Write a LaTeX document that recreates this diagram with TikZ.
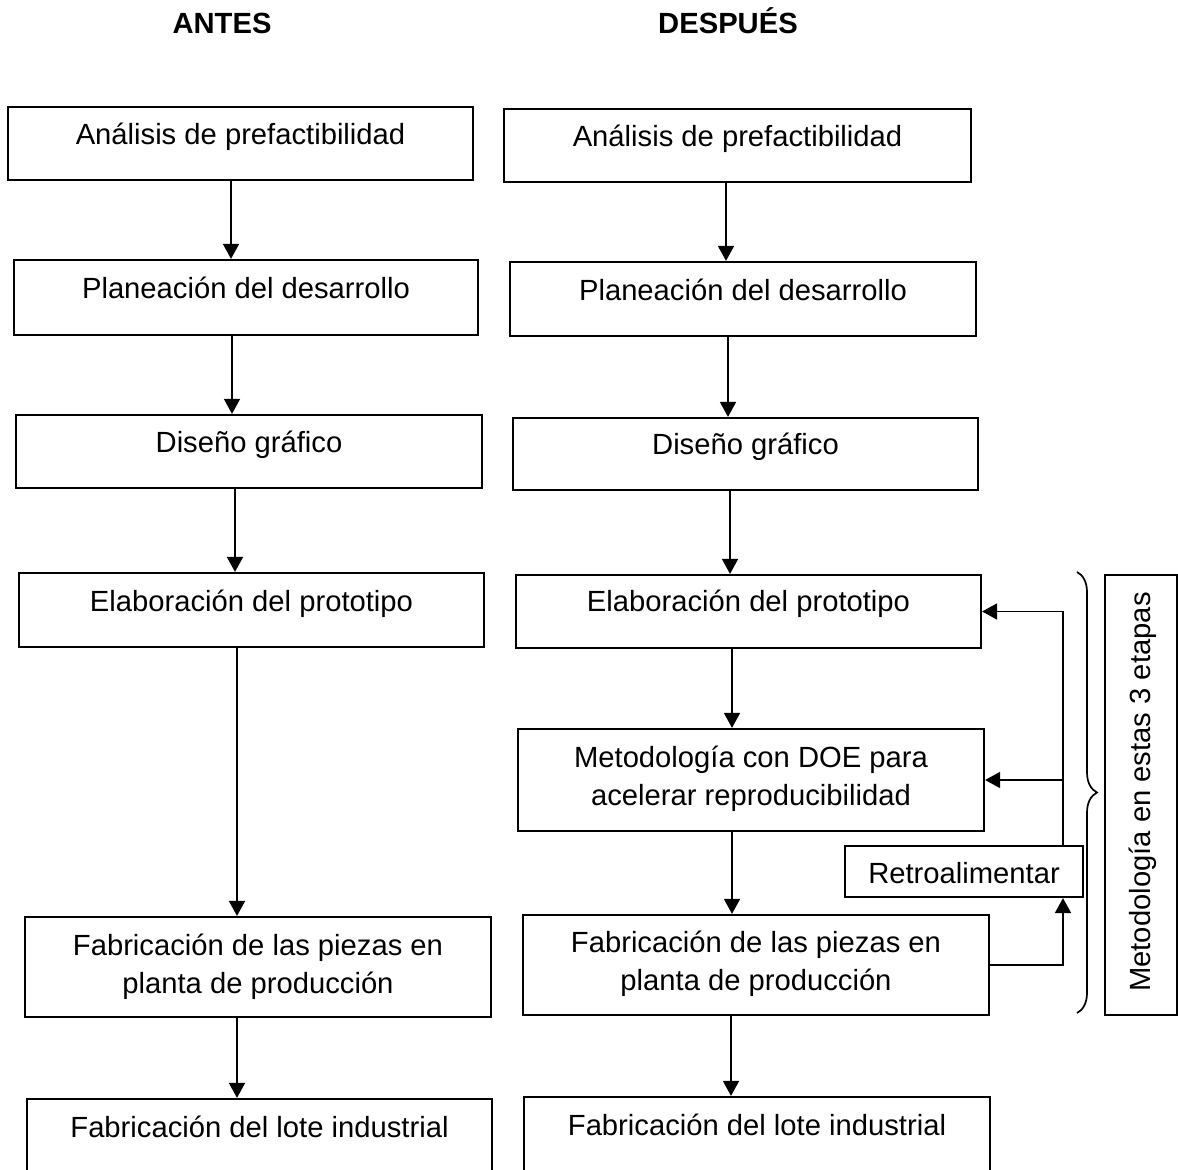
\documentclass[tikz,border=0pt]{standalone}
\usepackage{fontspec}
\setmainfont{Liberation Sans}
\usetikzlibrary{arrows.meta,fit,decorations.pathreplacing}
\begin{document}
\begin{tikzpicture}[x=0.5pt,y=-0.5pt,
  box/.style={draw, line width=1.1pt, inner sep=0pt},
  txt/.style={font=\fontsize{14.6}{19}\selectfont, inner sep=0pt, anchor=base, align=center},
  ttl/.style={font=\fontsize{14.6}{19}\selectfont\bfseries, inner sep=0pt, anchor=base},
  arr/.style={line width=0.85pt, -{Triangle[width=8pt,length=7.5pt]}},
  ln/.style={line width=0.85pt}]
\useasboundingbox (0,0) rectangle (1178,1170);
\clip (0,0) rectangle (1178,1170);

% column titles
\node[ttl] (antes) at (222,34) {ANTES};
\node[ttl] (despues) at (728,34) {DESPUÉS};

% ---- left column: previous process ----
\node[box, fit={(8,107) (473,180)}] (a1) {};
\node[box, fit={(14,260) (478,335)}] (a2) {};
\node[box, fit={(16,415) (482,488)}] (a3) {};
\node[box, fit={(19,573) (484,647)}] (a4) {};
\node[box, fit={(25,917) (491,1017)}] (a5) {};
\node[box, fit={(27,1099) (492,1190)}] (a6) {};

% (two-line texts are anchored at the baseline of their last line)
\node[txt] (a1t) at (240.5,145) {Análisis de prefactibilidad};
\node[txt] (a2t) at (246,299) {Planeación del desarrollo};
\node[txt] (a3t) at (249,453) {Diseño gráfico};
\node[txt] (a4t) at (251.5,612) {Elaboración del prototipo};
\node[txt] (a5t) at (258,993) {Fabricación de las piezas en\\planta de producción};
\node[txt] (a6t) at (259.5,1137) {Fabricación del lote industrial};

\coordinate (xa1) at (231,0);
\coordinate (xa2) at (232,0);
\coordinate (xa3) at (235,0);
\coordinate (xa4) at (237,0);
\draw[arr] (a1.south -| xa1) -- (a2.north -| xa1);
\draw[arr] (a2.south -| xa2) -- (a3.north -| xa2);
\draw[arr] (a3.south -| xa3) -- (a4.north -| xa3);
\draw[arr] (a4.south -| xa4) -- (a5.north -| xa4);
\draw[arr] (a5.south -| xa4) -- (a6.north -| xa4);

% ---- right column: proposed process ----
\node[box, fit={(504,109) (971,182)}] (b1) {};
\node[box, fit={(510,262) (976,336)}] (b2) {};
\node[box, fit={(513,418) (978,490)}] (b3) {};
\node[box, fit={(516,575) (981,648)}] (b4) {};
\node[box, fit={(518,729) (984,831)}] (b5) {};
\node[box, fit={(523,915) (989,1015)}] (b6) {};
\node[box, fit={(524,1097) (990,1190)}] (b7) {};

\node[txt] (b1t) at (737.5,147) {Análisis de prefactibilidad};
\node[txt] (b2t) at (743,301) {Planeación del desarrollo};
\node[txt] (b3t) at (745.5,455) {Diseño gráfico};
\node[txt] (b4t) at (748.5,612) {Elaboración del prototipo};
\node[txt] (b5t) at (751,805) {Metodología con DOE para\\acelerar reproducibilidad};
\node[txt] (b6t) at (756,990) {Fabricación de las piezas en\\planta de producción};
\node[txt] (b7t) at (757,1135) {Fabricación del lote industrial};

\coordinate (xb1) at (726,0);
\coordinate (xb2) at (728,0);
\coordinate (xb3) at (730,0);
\coordinate (xb4) at (732,0);
\coordinate (xb5) at (731,0);
\draw[arr] (b1.south -| xb1) -- (b2.north -| xb1);
\draw[arr] (b2.south -| xb2) -- (b3.north -| xb2);
\draw[arr] (b3.south -| xb3) -- (b4.north -| xb3);
\draw[arr] (b4.south -| xb4) -- (b5.north -| xb4);
\draw[arr] (b5.south -| xb4) -- (b6.north -| xb4);
\draw[arr] (b6.south -| xb5) -- (b7.north -| xb5);

% feedback loop
\node[box, fit={(845,846) (1083,897)}] (rb) {};
\node[txt] (rbt) at (964,883) {Retroalimentar};
\coordinate (fx) at (1063,0);
\draw[arr] (b6.east) -| (rb.south -| fx);
\draw[arr] (rb.north -| fx) |- (b4.east);
\draw[arr] (b5.east -| fx) -- (b5.east);

% brace and side label
\coordinate (brtop) at (1077,572);
\coordinate (brbot) at (1077,1013);
\draw[ln, decorate, decoration={brace, amplitude=10pt}] (brtop) -- (brbot);
\node[box, fit={(1105,575) (1177,1015)}] (side) {};
\node[txt, rotate=90, anchor=center] (sidet) at (1143,792) {Metodología en estas 3 etapas};
\end{tikzpicture}
\end{document}
